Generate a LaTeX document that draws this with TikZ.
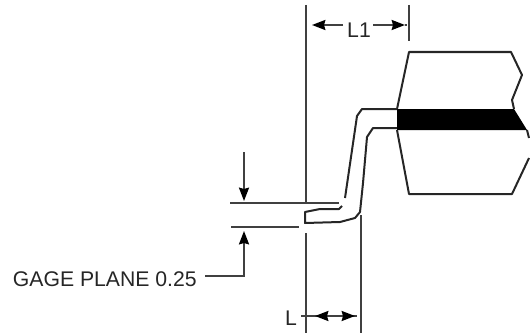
\documentclass[tikz,border=0pt]{standalone}
\usepackage{fontspec}
\setmainfont{Liberation Sans}
\usetikzlibrary{arrows.meta}
\begin{document}
\begin{tikzpicture}[
        x=0.75pt,y=-0.75pt,
        every node/.style={font=\fontsize{15.9}{18}\selectfont,inner sep=0pt,text=black!85},
        % Outline of the package and the lead
        outline/.style={line width=1.5pt,draw=black!85,line join=round},
        % Extension and dimension lines
        extline/.style={line width=1.5pt,draw=black!75},
        dimarrow/.style={line width=1.5pt,draw=black!75,-{Stealth[length=10pt,width=7.5pt,inset=1pt,black]}}
    ]
    \useasboundingbox (0,0) rectangle (530,335);

    % --- Labels ---
    \node (lblone) at (359,30) {L1};
    \node (lbl) at (291,318) {L};
    \node[anchor=east] (gage) at (197,279) {GAGE PLANE 0.25};

    % --- Package body ---
    \fill[black] (397,109) -- (514,109) -- (527,130) -- (397,130) -- cycle;
    \draw[outline] (397,109) -- (409,52) -- (511,52) -- (522,75) -- (512,100) -- (514,109);
    \draw[outline] (397,130) -- (409,194) -- (512,194) -- (529,158);
    \draw[outline] (527,130) -- (529,138);

    % --- Lead ---
    \draw[outline] (397,109) -- (362,109) -- (357,116) -- (345,198);
    \draw[outline] (342,206) -- (339,209) -- (320,209) -- (305,212) -- (305,223) -- (340,222) -- (355,218) -- (360,212)
        -- (363,183) -- (367,137) -- (373,128) -- (397,128);

    % --- Extension lines ---
    \draw[extline] (306,5) -- (306,203);
    \draw[extline] (409,5) -- (409,41);
    \draw[extline] (230,203) -- (339,203);
    \draw[extline] (231,227) -- (299,227);
    \draw[extline] (306,233) -- (306,333);
    \draw[extline] (361,215) -- (361,333);
    \draw[extline] (301,316) -- (357,316);

    % --- Dimension arrows ---
    \draw[dimarrow] (343,25) -- (312,25);
    \draw[dimarrow] (373,25) -- (405,25);
    \draw[extline] (405,25) -- (407,25);
    \draw[dimarrow] (244,152) -- (244,201);
    \draw[dimarrow] (gage.east)+(8,-3) -- (244,276) -- (244,231);
    \draw[dimarrow] (333,316) -- (315,316);
    \draw[dimarrow] (333,316) -- (355,316);
\end{tikzpicture}
\end{document}
